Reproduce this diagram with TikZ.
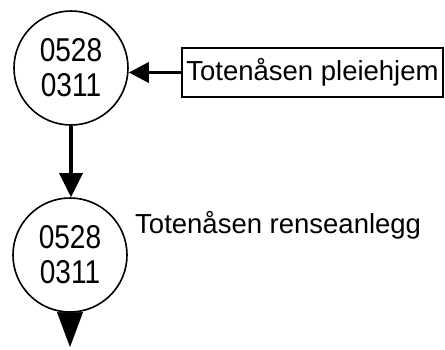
\documentclass[tikz,border=0pt]{standalone}
\usepackage{fontspec}
\setmainfont{Liberation Sans}
\newfontfamily\numfont[FakeStretch=0.85]{Liberation Sans}
\usetikzlibrary{arrows.meta}
\begin{document}
\begin{tikzpicture}[x=1pt,y=-1pt]
\useasboundingbox (0,0) rectangle (445,349);
\node[draw, circle, line width=1.6pt, minimum size=114pt, inner sep=0pt, align=center, font=\numfont\fontsize{33}{35}\selectfont] (s1) at (71,68) {0528\\0311};
\node[draw, circle, line width=1.6pt, minimum size=114pt, inner sep=0pt, align=center, font=\numfont\fontsize{33}{35}\selectfont] (s2) at (70,255) {0528\\0311};
\node[draw, line width=1.3pt, minimum width=261pt, minimum height=49pt, inner sep=3pt, font=\fontsize{27.5}{30}\selectfont] (plei) at (312.5,72.5) {Totenåsen pleiehjem};
\node[anchor=base west, inner sep=0pt, font=\fontsize{27.5}{30}\selectfont] (rens) at (135,233) {Totenåsen renseanlegg};
\coordinate (ut) at (70,347);
\path[draw,line width=3.5pt,-{Triangle[length=20pt,width=20pt]}] (plei.west) -- (plei.west -| s1.east);
\path[draw,line width=3.5pt,-{Triangle[length=24pt,width=23pt]}] (s1.south) -- (s1.south |- s2.north);
\path[draw,line width=0.5pt,-{Triangle[length=35pt,width=26pt]}] (s2.south) -- (ut);
\end{tikzpicture}
\end{document}
